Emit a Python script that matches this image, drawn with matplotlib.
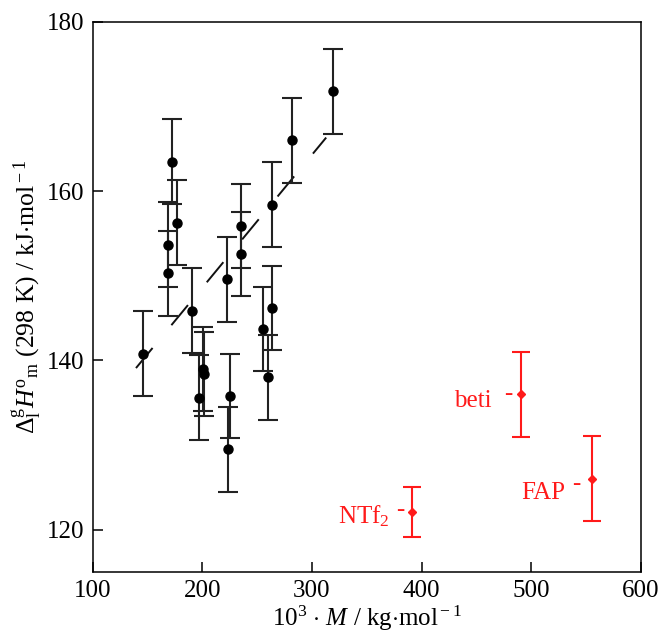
"""
plot.py — vaporisation enthalpy vs molar mass of ionic liquids
Outputs: out.png
"""

import matplotlib
matplotlib.use("Agg")
import matplotlib.pyplot as plt

OUTPUT_FILE = "out.png"

# Black series: 10^3 M / kg mol-1, dH / kJ mol-1, uncertainty
MASS = [146.2, 169.0, 169.0, 172.6, 177.2, 190.3, 197.3, 200.6, 201.3, 222.3,
        223.7, 225.3, 235.6, 235.6, 255.7, 260.0, 263.6, 263.9, 282.1, 319.5]
DH = [140.8, 150.3, 153.7, 163.5, 156.3, 145.9, 135.6, 139.0, 138.4, 149.6,
      129.5, 135.8, 152.6, 155.9, 143.7, 138.0, 146.2, 158.4, 166.0, 171.8]
DH_ERR = [5.0] * len(MASS)

# Red series (anions)
ANION_LABELS = ["NTf$_2$", "beti", "FAP"]
ANION_MASS = [391.0, 490.5, 555.9]
ANION_DH = [122.1, 136.0, 126.05]
ANION_ERR = [3.0, 5.0, 5.0]

# Linear trend line
FIT_SLOPE = 0.157
FIT_INTERCEPT = 117.2
FIT_X = [139.5, 313.0]

X_TICKS = [100, 200, 300, 400, 500, 600]
Y_TICKS = [120, 140, 160, 180]

plt.rcParams["font.family"] = ["Liberation Serif", "DejaVu Serif"]
plt.rcParams["mathtext.fontset"] = "custom"
plt.rcParams["mathtext.rm"] = "Liberation Serif"
plt.rcParams["mathtext.it"] = "Liberation Serif:italic"
plt.rcParams["mathtext.bf"] = "Liberation Serif:bold"


def plot_enthalpy():
    fig = plt.figure(figsize=(6.62, 6.37), dpi=100)
    ax = fig.add_axes([0.140, 0.102, 0.828, 0.8635])

    # dashed trend line
    fit_y = [FIT_SLOPE * x + FIT_INTERCEPT for x in FIT_X]
    ax.plot(FIT_X, fit_y, color="#111111", lw=1.4, linestyle=(0, (13.4, 15.2)),
            solid_capstyle="butt", dash_capstyle="butt", zorder=2)

    ax.errorbar(MASS, DH, yerr=DH_ERR, fmt="o", color="black", ms=6.5,
                ecolor="#222222", elinewidth=1.5, capsize=7.2, capthick=1.5,
                zorder=3)

    ax.errorbar(ANION_MASS, ANION_DH, yerr=ANION_ERR, fmt="D", color="#ff1a1a",
                ms=4.5, ecolor="#ff1a1a", elinewidth=1.5, capsize=6.5,
                capthick=1.5, zorder=3)

    # label offsets in points: (text dx, text dy, dash dx, dash dy)
    offsets = [(-15.6, -8.1, -8.1, -3.0),
               (-20.9, -9.1, -9.3, -4.0),
               (-19.7, -14.4, -11.5, -8.1)]
    for label, x, y, off in zip(ANION_LABELS, ANION_MASS, ANION_DH, offsets):
        ax.annotate(label, (x, y), xytext=(off[0], off[1]), textcoords="offset points",
                    ha="right", va="baseline", color="#ff1a1a", fontsize=18)
        ax.annotate("-", (x, y), xytext=(off[2], off[3]), textcoords="offset points",
                    ha="center", va="baseline", color="#ff1a1a", fontsize=18)

    ax.set_xlim(100, 600)
    ax.set_ylim(115, 180)
    ax.set_xticks(X_TICKS)
    ax.set_yticks(Y_TICKS)
    ax.tick_params(direction="in", length=7, width=1.1, labelsize=18,
                   top=False, right=False, pad=6)
    for spine in ax.spines.values():
        spine.set_linewidth(1.1)

    ax.set_xlabel(r"10$^{3}$ $\cdot$ $M$ / kg$\cdot$mol$^{\rm -1}$", fontsize=18, labelpad=1)
    ax.set_ylabel(r"$\mathit{\Delta}_{\rm l}^{\rm g}H^{\rm o}{}_{\rm m}$ (298 K) / kJ$\cdot$mol$^{\rm -1}$",
                  fontsize=18.5, labelpad=3)

    fig.savefig(OUTPUT_FILE, dpi=100, facecolor="white")
    print(f"Saved >> {OUTPUT_FILE}")
    plt.close(fig)


if __name__ == "__main__":
    plot_enthalpy()
